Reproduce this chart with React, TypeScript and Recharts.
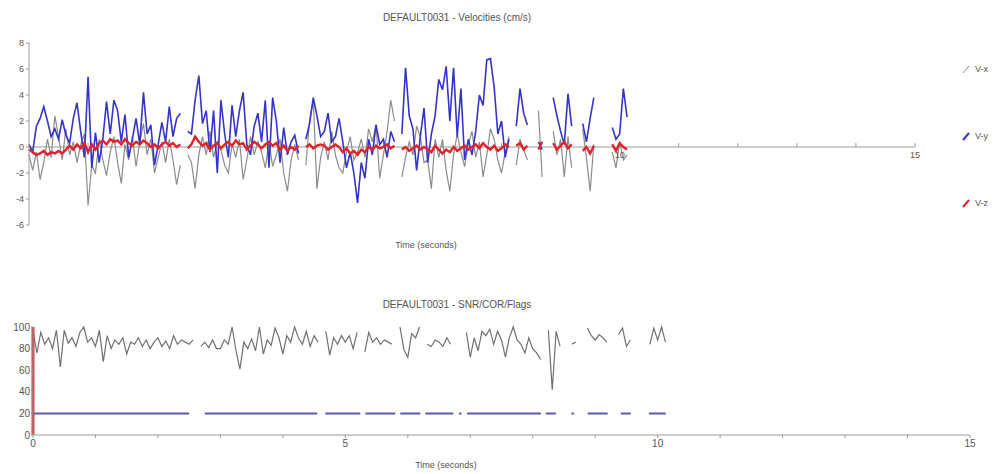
import { LineChart, Line, XAxis, YAxis, ReferenceLine, ReferenceDot } from 'recharts';

// 16 Hz samples, t = index * step (seconds)
const SAMPLE_STEP = 0.0625;

// velocities (cm/s), null where the record has a gap
const vx = [
  -0.6, -1.8, -0.4, -2.5, -1.2, 0.6, -0.8, 2.4,
  0.8, -1.0, 1.4, -0.6, 0.4, -1.2, 0.2, 1.0,
  -4.5, -1.4, -2.0, 0.6, -1.0, -2.2, -0.4, 0.8,
  -1.2, -2.8, 0.2, -1.0, 0.8, -1.5, 0.4, 1.8,
  -0.6, 0.6, -2.0, -0.8, 0.4, -1.2, 0.6, -1.0,
  -2.9, -1.4, null, -0.6, -1.2, -3.2, -0.6, 0.8,
  -0.6, 1.2, -0.8, 0.4, -0.2, -1.4, -2.0, 0.2,
  -0.8, 0.6, -2.5, -1.0, 0.8, -0.6, 0.4, -0.4,
  -1.6, 0.4, -1.5, -0.6, 0.6, -2.0, -3.4, -1.0,
  0.2, -1.0, null, -1.4, 2.0, 3.6, -3.2, -0.8,
  0.4, -1.0, 1.2, -0.6, -1.6, -2.0, -0.4, 0.8,
  -1.0, -0.4, 0.6, -0.8, 1.4, 0.4, 1.7, -2.4,
  -0.6, 1.2, 3.6, 2.0, null, -2.3, -0.8, 0.4,
  -0.6, 1.6, 0.8, -1.2, -1.0, -3.2, 0.6, -0.8,
  0.6, -1.8, -3.4, -0.6, 1.0, -0.4, -1.5, 0.2,
  1.2, -0.8, 0.4, -2.3, -0.6, 1.4, 0.6, -1.0,
  -2.0, -0.4, 0.8, null, -1.4, 0.6, -0.2, -1.0,
  null, null, 2.8, -2.3, null, null, 1.2, -0.6,
  0.6, -2.3, 0.8, -1.6, null, null, 1.4, -0.8,
  -3.4, 0.2, null, null, null, null, -0.4, -1.6,
  0.4, -1.0, -0.6,
];

const vy = [
  0.2, -0.4, 1.6, 2.2, 3.1, 2.0, 0.8, 1.4,
  0.6, 2.1, 0.9, 0.3, 2.2, 3.4, 1.2, -0.8,
  5.4, -1.6, 1.1, -1.2, 0.6, 3.5, 1.0, 3.6,
  2.8, 0.4, 2.5, -0.8, 0.6, 2.2, 0.2, 4.2,
  1.0, 1.7, -1.4, 0.2, 1.9, 0.4, 3.1, 0.8,
  2.2, 2.6, null, 1.2, 1.0, 3.6, 5.5, 1.8,
  2.8, -0.4, 2.8, -2.0, 3.6, 1.0, -0.8, 3.2,
  0.8, 2.8, 4.2, 0.2, -0.6, 1.6, 2.6, 0.4,
  3.6, -1.6, 3.8, 2.0, -1.2, 1.5, -0.6, 0.4,
  0.9, -0.5, null, 0.6, 1.8, 3.8, 2.4, 0.8,
  1.2, 2.6, 0.4, 0.8, 2.2, 0.4, -1.6, -0.4,
  -2.0, -4.3, -1.2, -2.4, 0.6, -0.6, 1.7, 0.2,
  0.6, -0.8, 1.2, 0.4, null, 1.0, 6.1, 2.4,
  1.4, -1.8, 0.8, 3.0, -1.2, 1.0, 2.4, 5.2,
  4.4, 6.2, 2.0, 6.1, 0.8, 4.5, -1.0, 0.6,
  -0.6, 1.2, 4.0, 3.2, 6.7, 6.8, 4.6, 1.0,
  2.0, -0.8, 0.6, null, 1.6, 4.5, 2.6, 1.7,
  null, null, 0.4, -0.2, null, null, 3.8, 2.4,
  1.2, 0.2, 4.1, 1.6, null, null, 1.8, 0.4,
  2.2, 3.8, null, null, null, null, 1.5, 0.6,
  1.0, 4.5, 2.3,
];

const vz = [
  -0.2, -0.4, -0.6, -0.5, -0.3, -0.6, -0.4, -0.5,
  -0.3, -0.5, -0.2, 0.1, -0.2, 0.2, -0.1, 0.3,
  -0.4, 0.2, -0.2, 0.3, 0.5, 0.2, 0.6, 0.4,
  0.5, 0.2, 0.6, 0.3, 0.1, 0.4, 0.2, 0.5,
  0.3, 0.0, 0.2, -0.1, 0.2, 0.4, 0.1, 0.3,
  0.0, 0.2, null, -0.1, 0.2, 0.8, 0.4, 0.1,
  0.3, -0.2, 0.1, 0.3, -0.1, 0.2, 0.4, 0.1,
  0.5, 0.2, 0.3, -0.2, 0.1, 0.4, 0.2, -0.1,
  0.2, 0.4, 0.1, 0.3, -0.2, 0.1, -0.3, 0.0,
  -0.2, 0.1, null, 0.0, 0.2, -0.1, 0.1, 0.2,
  0.1, -0.2, 0.0, 0.2, 0.0, -0.4, -0.1, -0.5,
  -0.3, -0.6, -0.2, -0.4, 0.0, -0.2, 0.1, -0.1,
  0.0, 0.2, -0.1, 0.1, null, -0.2, 0.0, -0.3,
  -0.1, 0.1, -0.2, 0.0, -0.2, -0.4, 0.1, -0.2,
  -0.5, -0.2, -0.4, 0.0, -0.3, -0.1, 0.1, -0.2,
  0.0, 0.2, -0.1, 0.3, 0.0, -0.2, 0.1, -0.3,
  -0.1, 0.2, 0.0, null, 0.1, 0.3, -0.2, 0.1,
  null, null, -0.2, 0.4, null, null, 0.3, -0.2,
  0.1, 0.4, -0.1, 0.2, null, null, -0.3, 0.0,
  -0.5, 0.1, null, null, null, null, 0.2, -0.3,
  0.3, 0.0, -0.2,
];

// SNR / correlation trace of the lower panel
const snr = [
  96, 76, 95, 84, 90, 80, 97, 63,
  97, 85, 90, 82, 95, 100, 86, 90,
  82, 97, 68, 92, 80, 88, 84, 90,
  75, 86, 84, 90, 82, 88, 80, 86,
  90, 82, 87, 80, 92, 84, 88, 86,
  84, 88, null, 82, 86, 81, 88, 80,
  80, 88, 84, 100, 78, 61, 86, 80,
  89, 78, 100, 75, 88, 83, 99, 90,
  75, 92, 86, 100, 90, 84, 96, 82,
  92, 86, null, 96, 74, 90, 84, 92,
  86, 92, 80, 95, null, 77, 95, 86,
  90, 84, 88, 86, 84, null, 100, 79,
  72, 94, 90, 100, null, 84, 82, 88,
  86, 82, 90, 84, null, 88, null, 95,
  72, 90, 78, 96, 92, 98, 84, 96,
  88, 72, 90, 100, 88, 84, 76, 90,
  80, 76, 70, null, 97, 42, 96, 82,
  null, null, 84, 86, null, null, 99, 92,
  88, 93, 90, 86, null, null, 93, 99,
  82, 88, null, null, null, null, 84, 99,
  88, 100, 86,
];

// flag line at 20, drawn only where the record is valid (start, end in seconds)
const FLAG_LEVEL = 20;
const flagSegments = [
  [0, 2.5], [2.75, 4.55], [4.68, 5.24], [5.32, 5.8], [5.88, 6.2], [6.28, 6.73],
  [6.82, 6.86], [6.95, 8.13], [8.21, 8.37], [8.62, 8.66], [8.88, 9.2], [9.41, 9.57], [9.86, 10.13],
];

// red marker at the start of the record
const markerTimes = [0, 0];
const markerValues = [0, 100];

const velocityTicks = [-6, -4, -2, 0, 2, 4, 6, 8];
const topTickMarks = [1, 2, 3, 4, 5, 6, 7, 8, 9, 10, 11, 12, 13, 14, 15];
const topTickLabels = [10, 15];
const timeTicks = [0, 1, 2, 3, 4, 5, 6, 7, 8, 9, 10, 11, 12, 13, 14, 15];
const snrTicks = [0, 20, 40, 60, 80, 100];

const series = [
  { key: 'vx', name: 'V-x', color: '#8c8c8c', width: 1.2 },
  { key: 'vy', name: 'V-y', color: '#3434c8', width: 1.6 },
  { key: 'vz', name: 'V-z', color: '#e0222c', width: 2.4 },
];

const rows = vx.map((_, i) => ({ t: i * SAMPLE_STEP, vx: vx[i], vy: vy[i], vz: vz[i], snr: snr[i] }));

const flagRows = flagSegments.flatMap(([a, b]) => [
  { t: a, v: FLAG_LEVEL },
  { t: b, v: FLAG_LEVEL },
  { t: b, v: null },
]);

const markerRows = markerTimes.map((t, i) => ({ t, v: markerValues[i] }));

const textColor = '#555';
const axisColor = '#9a9a9a';

const Caption = ({ text, x, y, size = 10 }: { text: string; x: number; y: number; size?: number }) => (
  <div style={{ position: 'absolute', left: x - 200, top: y - size * 0.6, width: 400, textAlign: 'center', fontSize: size, color: textColor, lineHeight: 1.2 }}>
    {text}
  </div>
);

export default function App() {
  return (
    <div style={{ position: 'absolute', left: 0, top: 0, width: 998, height: 474, background: '#fff', fontFamily: '"Liberation Sans", Arial, sans-serif', overflow: 'hidden' }}>
      <Caption text="DEFAULT0031 - Velocities (cm/s)" x={457} y={18} />
      <Caption text="Time (seconds)" x={426} y={245} size={9} />
      <Caption text="DEFAULT0031 - SNR/COR/Flags" x={457} y={305} />
      <Caption text="Time (seconds)" x={446} y={465} size={9} />

      <div style={{ position: 'absolute', left: 0, top: 0 }}>
        <LineChart width={998} height={260} data={rows} margin={{ top: 43, right: 83, bottom: 35, left: 0 }}>
          <XAxis type="number" dataKey="t" domain={[0, 15]} hide />
          <YAxis
            type="number"
            domain={[-6, 8]}
            ticks={velocityTicks}
            interval={0}
            width={29}
            tickSize={3}
            tickMargin={2}
            tick={{ fontSize: 9, fill: textColor }}
            tickLine={{ stroke: axisColor }}
            axisLine={{ stroke: axisColor }}
          />
          <ReferenceLine y={0} stroke={axisColor} />
          {topTickMarks.map((k) => (
            <ReferenceLine key={k} segment={[{ x: k, y: 0 }, { x: k, y: 0.3 }]} stroke={axisColor} />
          ))}
          {topTickLabels.map((k) => (
            <ReferenceDot
              key={k}
              x={k}
              y={0}
              r={0}
              stroke="none"
              fill="none"
              label={{ value: String(k), position: 'bottom', offset: 5, fontSize: 9, fill: textColor }}
            />
          ))}
          {series.map((s) => (
            <Line
              key={s.key}
              type="linear"
              dataKey={s.key}
              name={s.name}
              stroke={s.color}
              strokeWidth={s.width}
              dot={false}
              isAnimationActive={false}
            />
          ))}
        </LineChart>
      </div>

      {/* legend of the velocity panel */}
      {series.map((s, i) => (
        <div key={s.key} style={{ position: 'absolute', left: 962, top: 64 + i * 67, display: 'flex', alignItems: 'center', gap: 5, fontSize: 9, color: textColor }}>
          <svg width={8} height={9}>
            <line x1={1} y1={8} x2={7} y2={1} stroke={s.color} strokeWidth={s.key === 'vx' ? 1 : 2} />
          </svg>
          <span>{s.name}</span>
        </div>
      ))}

      <div style={{ position: 'absolute', left: 0, top: 280 }}>
        <LineChart width={998} height={180} data={rows} margin={{ top: 47, right: 28, bottom: 5, left: 0 }}>
          <XAxis
            type="number"
            dataKey="t"
            domain={[0, 15]}
            ticks={timeTicks}
            interval={0}
            height={20}
            tickSize={3}
            tickMargin={2}
            tickFormatter={(v: number) => (v % 5 === 0 ? String(v) : '')}
            tick={{ fontSize: 10, fill: textColor }}
            tickLine={{ stroke: axisColor }}
            axisLine={{ stroke: axisColor }}
          />
          <YAxis
            type="number"
            domain={[0, 100]}
            ticks={snrTicks}
            interval={0}
            width={33}
            tickSize={2}
            tickMargin={1}
            tick={{ fontSize: 10, fill: textColor }}
            tickLine={{ stroke: axisColor }}
            axisLine={{ stroke: axisColor }}
          />
          <Line type="linear" dataKey="snr" stroke="#707070" strokeWidth={1.2} dot={false} isAnimationActive={false} />
          <Line type="linear" data={flagRows} dataKey="v" stroke="#5b5ba8" strokeWidth={2} dot={false} isAnimationActive={false} />
          <Line type="linear" data={markerRows} dataKey="v" stroke="#d8303a" strokeWidth={3} dot={false} isAnimationActive={false} />
        </LineChart>
      </div>
    </div>
  );
}
